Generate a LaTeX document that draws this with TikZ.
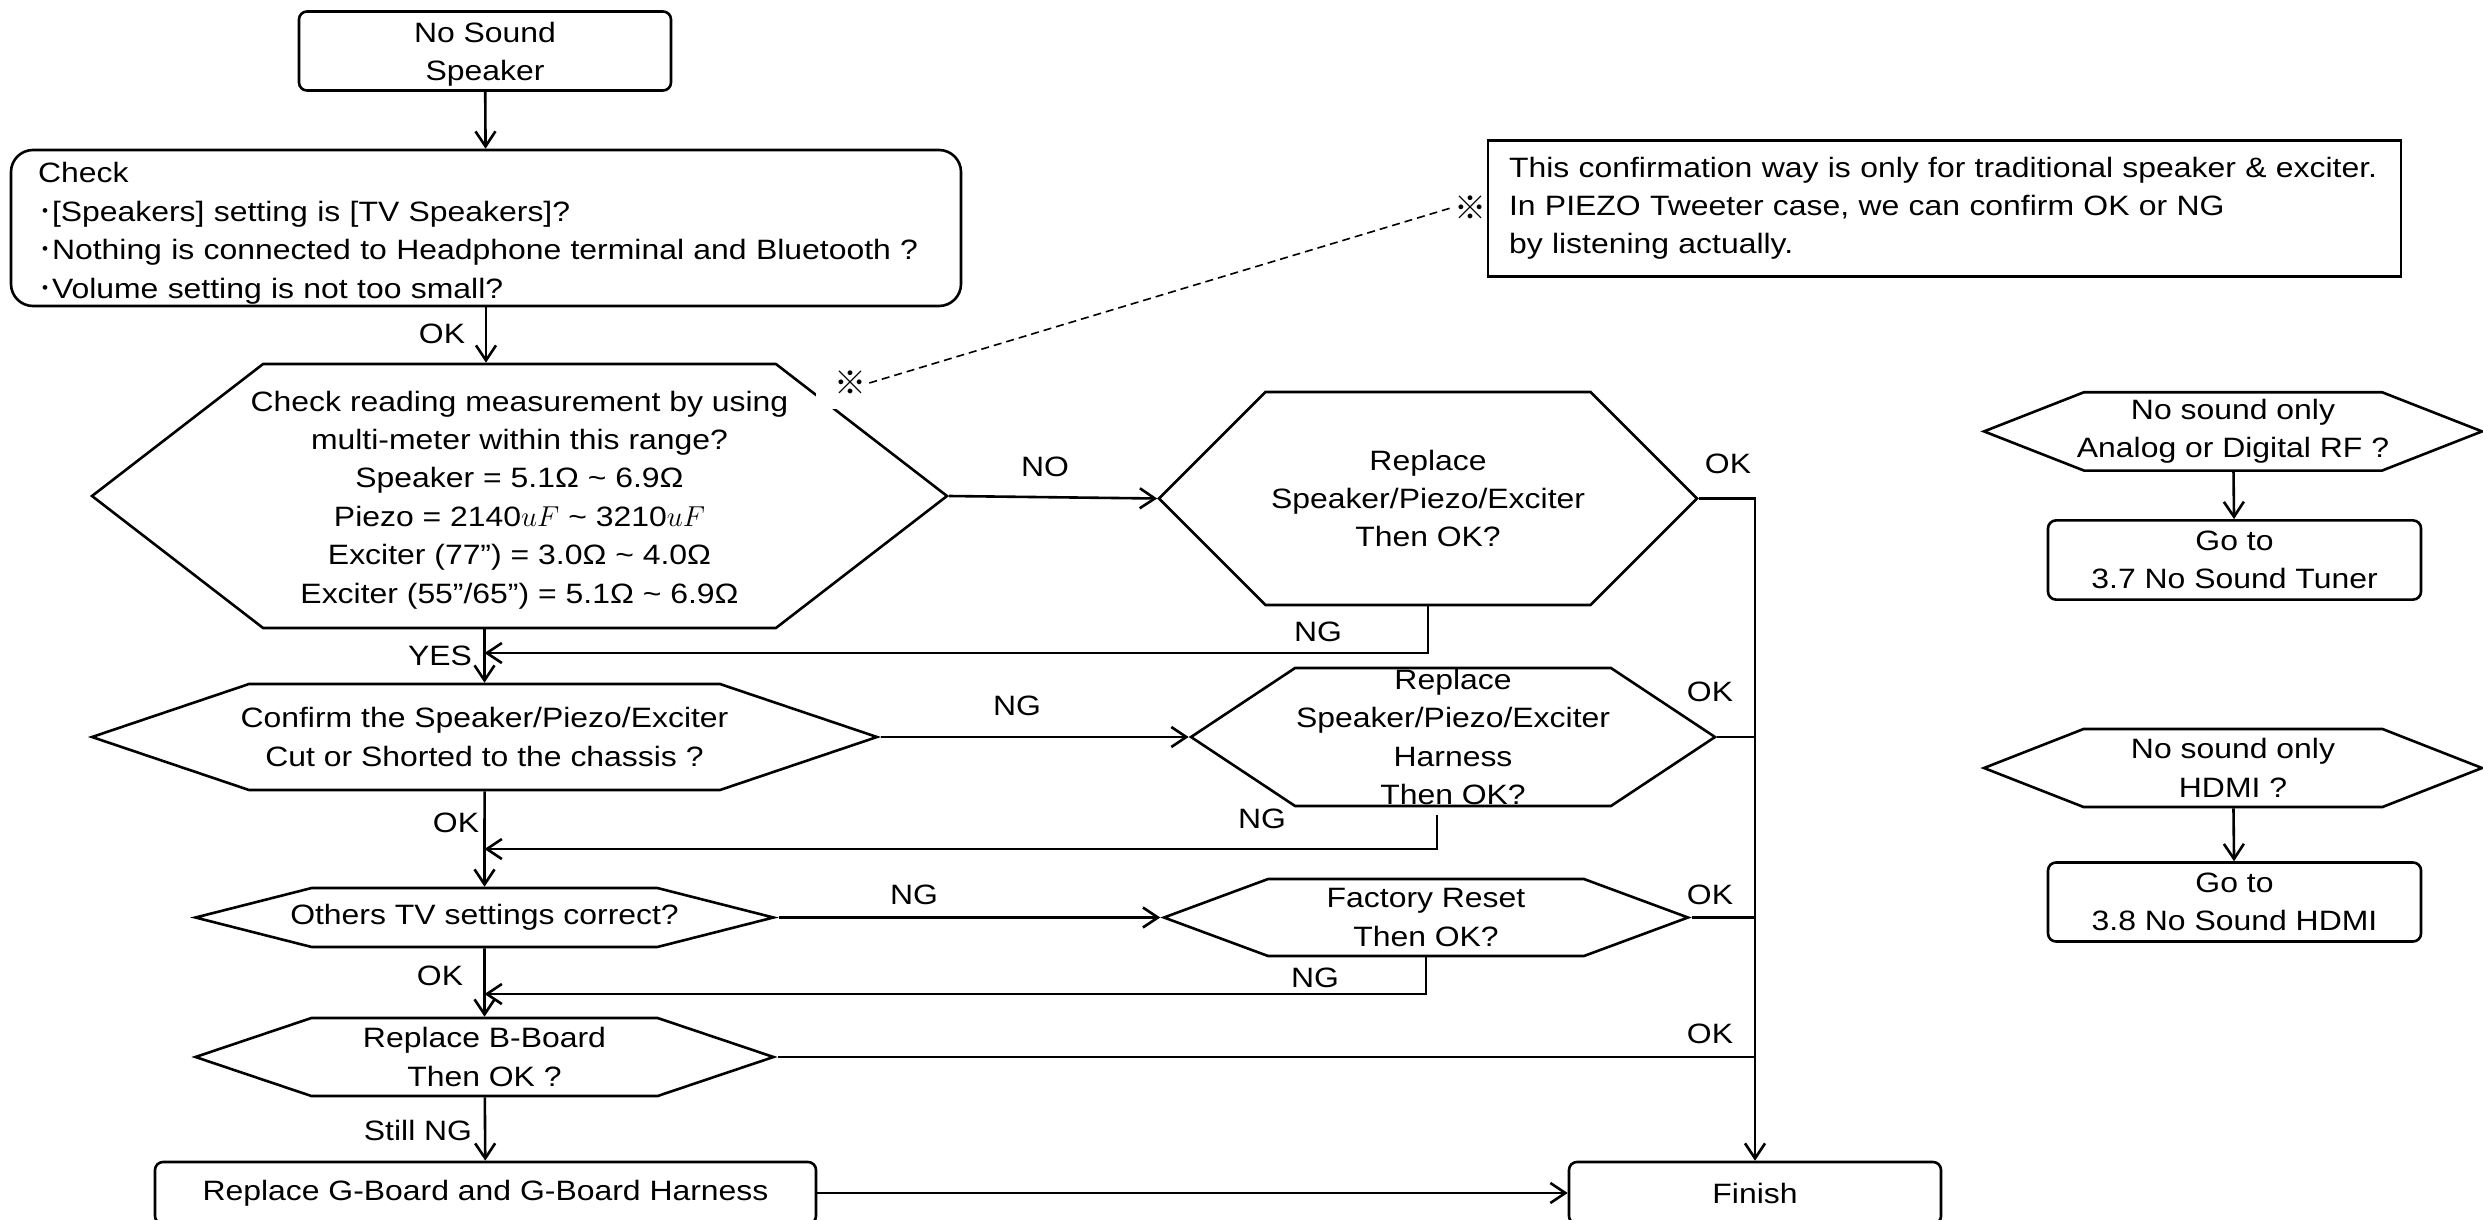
\documentclass[tikz,border=0pt]{standalone}
\usepackage{fontspec}
\setmainfont[FakeStretch=1.14]{Liberation Sans}
\newfontfamily\jpfont{Noto Sans CJK JP}
\usetikzlibrary{shapes.symbols,arrows.meta}

\begin{document}
\begin{tikzpicture}[x=0.5pt, y=-0.5pt, line width=1.3pt,
  >={Straight Barb[length=7.5pt,width=10pt]},
  every node/.style={font=\fontsize{14}{19.2}\selectfont},
  rbox/.style={draw, rounded corners=4pt, align=center, inner sep=0pt},
  hexa/.style={draw, shape=signal, signal to=east and west, align=center, inner xsep=-12pt, inner ysep=0pt},
  lbl/.style={inner sep=1pt},
  refmark/.style={inner sep=1pt, font=\jpfont\fontsize{16}{19}\selectfont}]
\useasboundingbox (0,0) rectangle (2483,1220);

% main column
\node[rbox, minimum width=186pt, minimum height=39.5pt] (start) at (485,51)
  {\rule{0pt}{13.5pt}No Sound\\Speaker};
\node[draw, rounded corners=11pt, align=left, inner xsep=13.5pt, inner ysep=0pt,
  text width=448pt, minimum height=78pt] (check) at (486,228)
  {\rule{0pt}{15.5pt}Check\\{\jpfont ･}[Speakers] setting is [TV Speakers]?\\
   {\jpfont ･}Nothing is connected to Headphone terminal and Bluetooth ?\\
   {\jpfont ･}Volume setting is not too small?};
\node[hexa, minimum width=427.5pt, minimum height=132pt, signal pointer angle=75.3] (hexM) at (519.5,496)
  {\rule{0pt}{14pt}Check reading measurement by using\\multi-meter within this range?\\
   Speaker = 5.1Ω \textasciitilde{} 6.9Ω\\
   Piezo = 2140$uF$ \textasciitilde{} 3210$uF$\\
   Exciter (77”) = 3.0Ω \textasciitilde{} 4.0Ω\\
   Exciter (55”/65”) = 5.1Ω \textasciitilde{} 6.9Ω};
\node[hexa, minimum width=392.5pt, minimum height=53pt, signal pointer angle=37.3] (confirm) at (484.5,737)
  {Confirm the Speaker/Piezo/Exciter\\Cut or Shorted to the chassis ?};
\node[hexa, minimum width=289pt, minimum height=29.5pt, signal pointer angle=28.5] (others) at (484.5,917.5)
  {Others TV settings correct?};
\node[hexa, minimum width=289pt, minimum height=39pt, signal pointer angle=37.2] (bboard) at (484.5,1057)
  {Replace B-Board\\Then OK ?};
\node[rbox, minimum width=330.5pt, minimum height=31pt] (gboard) at (485.5,1193)
  {Replace G-Board and G-Board Harness};

% replace column
\node[hexa, minimum width=269pt, minimum height=106.5pt, signal pointer angle=90] (replSpk) at (1428,498.5)
  {Replace\\Speaker/Piezo/Exciter\\Then OK?};
\node[hexa, inner ysep=-1pt, minimum width=262pt, minimum height=69pt, signal pointer angle=67.1] (replHarn) at (1453,737)
  {Replace\\Speaker/Piezo/Exciter\\Harness\\Then OK?};
\node[hexa, minimum width=262pt, minimum height=38.5pt, signal pointer angle=40.6] (factory) at (1426,917.5)
  {Factory Reset\\Then OK?};
\node[rbox, minimum width=186pt, minimum height=31pt] (finish) at (1755,1193) {Finish};

% note
\node[draw, align=left, inner xsep=10.5pt, inner ysep=0pt, text width=435.5pt, minimum height=68pt,
  font=\fontsize{14}{19.1}\selectfont] (note) at (1944.5,208.5)
  {This confirmation way is only for traditional speaker \& exciter.\\
   In PIEZO Tweeter case, we can confirm OK or NG\\by listening actually.};
\node[refmark, fill=white, inner xsep=9pt, inner ysep=7pt] (markA) at (850,383) {※};
\node[refmark] (markB) at (1470,208) {※};
\draw[dashed, line width=0.8pt, dash pattern=on 4pt off 2.5pt] ([xshift=-8pt]markA.east) -- (markB.west);

% side branches
\node[hexa, minimum width=249pt, minimum height=39.2pt, signal pointer angle=42.8] (tunerQ) at (2233,431.4)
  {No sound only\\Analog or Digital RF ?};
\node[rbox, minimum width=186.5pt, minimum height=39.6pt] (tunerGo) at (2234.5,560)
  {Go to\\3.7 No Sound Tuner};
\node[hexa, minimum width=249pt, minimum height=39pt, signal pointer angle=42.8] (hdmiQ) at (2233,768)
  {No sound only\\HDMI ?};
\node[rbox, minimum width=186.5pt, minimum height=39.5pt] (hdmiGo) at (2234.5,902)
  {Go to\\3.8 No Sound HDMI};
\draw[->] (tunerQ) -- (tunerGo);
\draw[->] (hdmiQ) -- (hdmiGo);

% connectors
\draw[->] (start) -- (check);
\draw[->] (check.south) -- (check.south |- hexM.north);
\draw[->] (confirm.north |- hexM.south) -- (confirm.north);
\draw[->] (confirm) -- (others);
\draw[->] (others) -- (bboard);
\draw[->] (bboard) -- (gboard);
\draw[->] (gboard) -- (finish);
\draw[->] (hexM.east) -- (replSpk.west);
\draw[->] (confirm.east) -- (replHarn.west);
\draw[->] (others.east) -- (factory.west);
\draw[->] (replSpk.east) -| (finish.north);
\draw (replHarn.east) -- (replHarn.east -| finish.north);
\draw (factory.east) -- (factory.east -| finish.north);
\draw (bboard.east) -- (bboard.east -| finish.north);
\coordinate (ret1) at (484.5,653);
\coordinate (ret2) at (484.5,849);
\coordinate (ret3) at (484.5,994);
\draw[->] (replSpk.south) |- (ret1);
\draw[->] ([xshift=-8pt,yshift=-4pt]replHarn.south) |- (ret2);
\draw[->] (factory.south) |- (ret3);

% labels
\node[lbl] (okCheck) at (442,334) {OK};
\node[lbl] (noMeas) at (1045,467) {NO};
\node[lbl] (okSpk) at (1728,464) {OK};
\node[lbl] (ngSpk) at (1318,632) {NG};
\node[lbl] (yesMeas) at (440,656) {YES};
\node[lbl] (ngConf) at (1017,706) {NG};
\node[lbl] (okHarn) at (1710,692) {OK};
\node[lbl] (ngHarn) at (1262,819) {NG};
\node[lbl] (okConf) at (456,823) {OK};
\node[lbl] (ngOth) at (914,895) {NG};
\node[lbl] (okFac) at (1710,895) {OK};
\node[lbl] (ngFac) at (1315,978) {NG};
\node[lbl] (okOth) at (440,976) {OK};
\node[lbl] (okBrd) at (1710,1034) {OK};
\node[lbl] (stillNG) at (418,1130) {Still NG};
\end{tikzpicture}
\end{document}
